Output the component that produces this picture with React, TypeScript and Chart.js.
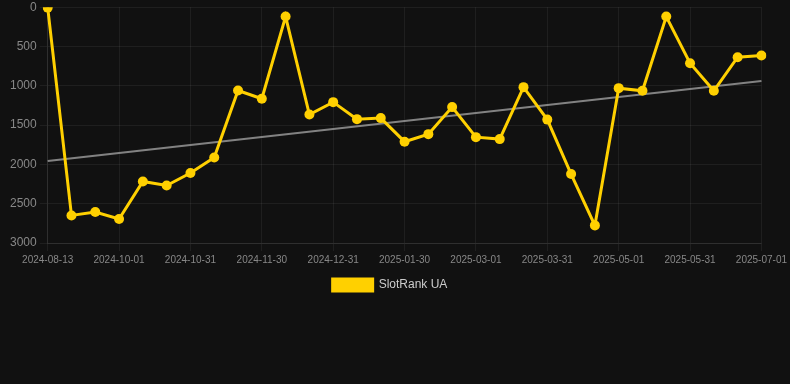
import React, { useEffect, useRef } from "react";
import { Chart, registerables } from "chart.js";

Chart.register(...registerables);

const dates = [
  "2024-08-13", "2024-09-11", "2024-09-21", "2024-10-01", "2024-10-11", "2024-10-21",
  "2024-10-31", "2024-11-10", "2024-11-20", "2024-11-30", "2024-12-10", "2024-12-20",
  "2024-12-31", "2025-01-10", "2025-01-20", "2025-01-30", "2025-02-09", "2025-02-19",
  "2025-03-01", "2025-03-11", "2025-03-21", "2025-03-31", "2025-04-10", "2025-04-20",
  "2025-05-01", "2025-05-11", "2025-05-21", "2025-05-31", "2025-06-10", "2025-06-20",
  "2025-07-01",
];

const slotRankUA = [
  5, 2649, 2606, 2695, 2217, 2268, 2110, 1912, 1060, 1165, 119, 1365, 1208, 1424, 1411,
  1711, 1615, 1271, 1653, 1678, 1017, 1430, 2123, 2776, 1030, 1064, 119, 712, 1064, 636, 615,
];

// Trend line endpoints (first and last category)
const trendStart = 1957;
const trendEnd = 940;

const yTicks = [0, 500, 1000, 1500, 2000, 2500, 3000];

export default function App() {
  const ref = useRef<HTMLCanvasElement>(null);

  useEffect(() => {
    document.body.style.margin = "0";
    document.body.style.background = "#111111";
    const trend = dates.map((_, i) =>
      i === 0 ? trendStart : i === dates.length - 1 ? trendEnd : null
    );
    const chart = new Chart(ref.current!, {
      type: "line",
      data: {
        labels: dates,
        datasets: [
          {
            label: "SlotRank UA",
            data: slotRankUA,
            borderColor: "#FFD000",
            backgroundColor: "#FFD000",
            borderWidth: 3,
            pointRadius: 5,
            pointBorderWidth: 0,
            pointHoverRadius: 5,
            pointBackgroundColor: "#FFD000",
            pointBorderColor: "#FFD000",
            tension: 0,
          },
          {
            label: "trend",
            data: trend,
            borderColor: "rgba(150,150,150,0.85)",
            backgroundColor: "rgba(150,150,150,0.85)",
            borderWidth: 2,
            pointRadius: 0,
            spanGaps: true,
          },
        ],
      },
      options: {
        responsive: false,
        animation: false,
        maintainAspectRatio: false,
        layout: { padding: { left: 7, right: 17, top: 0, bottom: 0 } },
        plugins: {
          tooltip: { enabled: false },
          legend: {
            position: "bottom",
            labels: {
              color: "#cccccc",
              font: { family: "Liberation Sans, Arial, sans-serif", size: 12 },
              boxWidth: 40,
              boxHeight: 12,
              filter: (item) => item.text === "SlotRank UA",
            },
          },
        },
        scales: {
          x: {
            offset: false,
            grid: {
              color: (ctx) =>
                ctx.index % 3 === 0 ? "rgba(255,255,255,0.06)" : "rgba(0,0,0,0)",
            },
            border: { color: "rgba(255,255,255,0.08)" },
            ticks: {
              autoSkip: false,
              maxRotation: 0,
              color: "#888888",
              font: { family: "Liberation Sans, Arial, sans-serif", size: 10 },
              callback: (_v, i) => (i % 3 === 0 ? dates[i] : ""),
            },
          },
          y: {
            reverse: true,
            min: yTicks[0],
            max: yTicks[yTicks.length - 1],
            afterBuildTicks: (axis) => {
              axis.ticks = yTicks.map((v) => ({ value: v }));
            },
            grid: { color: "rgba(255,255,255,0.06)" },
            border: { color: "rgba(255,255,255,0.08)" },
            ticks: {
              color: "#888888",
              font: { family: "Liberation Sans, Arial, sans-serif", size: 12 },
              callback: (v) => String(v),
            },
          },
        },
      },
    });
    return () => chart.destroy();
  }, []);

  return (
    <div style={{ width: 790, height: 384, background: "#111111", overflow: "hidden" }}>
      <canvas
        ref={ref}
        width={790}
        height={304}
        style={{ display: "block", marginTop: -3 }}
      />
    </div>
  );
}
